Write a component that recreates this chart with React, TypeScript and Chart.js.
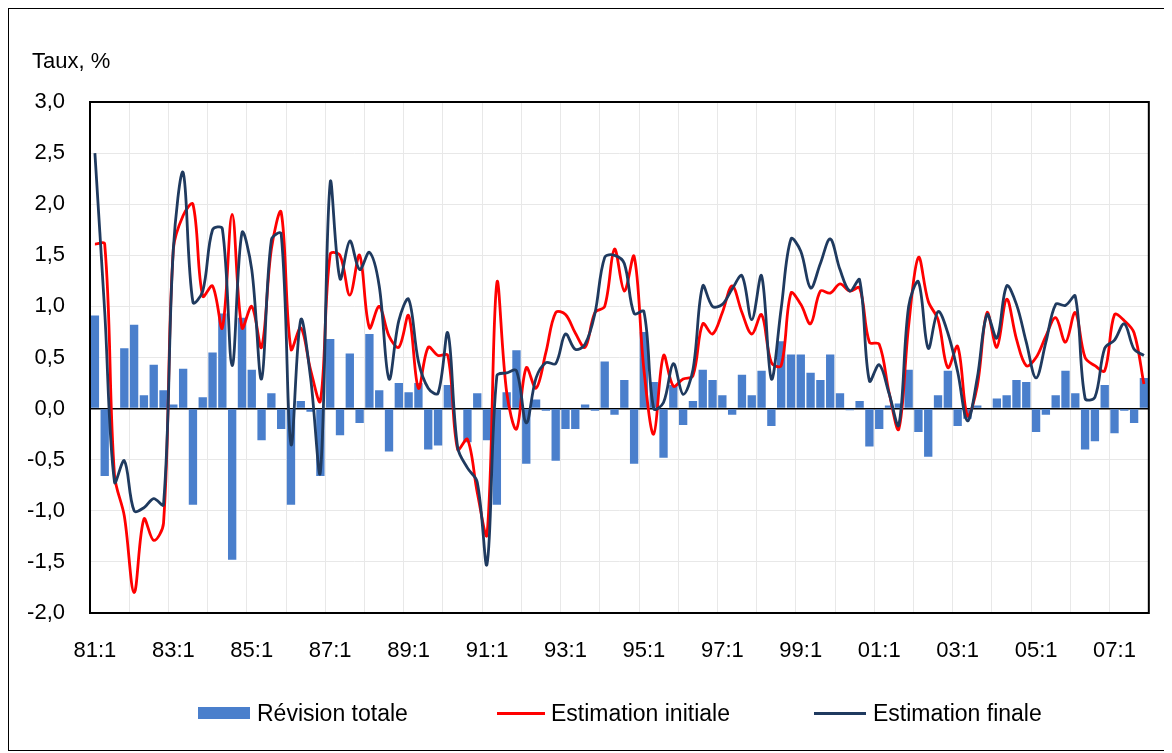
import React, { useEffect, useRef } from "react";
import { Chart, registerables } from "chart.js";

Chart.register(...registerables);

const years: string[] = ["81","82","83","84","85","86","87","88","89","90","91","92","93","94","95","96","97","98","99","00","01","02","03","04","05","06","07"];
const quarterNums: string[] = ["1","2","3","4"];
const categories: string[] = years.flatMap((y) => quarterNums.map((q) => `${y}:${q}`));

const tickLabels: string[] = ["81:1","83:1","85:1","87:1","89:1","91:1","93:1","95:1","97:1","99:1","01:1","03:1","05:1","07:1"];

const revisionTotale: number[] = [
  0.91, -0.66, 0.0, 0.59, 0.82, 0.13, 0.43, 0.18,
  0.04, 0.39, -0.94, 0.11, 0.55, 0.93, -1.48, 0.89,
  0.38, -0.31, 0.15, -0.2, -0.94, 0.075, -0.03, -0.66,
  0.68, -0.26, 0.54, -0.14, 0.73, 0.18, -0.42, 0.25,
  0.16, 0.25, -0.4, -0.36, 0.23, 0.0, -0.33, 0.15,
  -0.31, -0.94, 0.16, 0.57, -0.54, 0.09, -0.02, -0.51,
  -0.2, -0.2, 0.04, -0.02, 0.46, -0.06, 0.28, -0.54,
  0.75, 0.26, -0.48, 0.23, -0.16, 0.075, 0.38, 0.28,
  0.13, -0.06, 0.33, 0.13, 0.37, -0.17, 0.66, 0.53,
  0.53, 0.35, 0.28, 0.53, 0.15, -0.015, 0.075, -0.37,
  -0.2, 0.03, 0.05, 0.38, -0.23, -0.47, 0.13, 0.37,
  -0.17, -0.1, 0.03, -0.01, 0.1, 0.13, 0.28, 0.26,
  -0.23, -0.06, 0.13, 0.37, 0.15, -0.4, -0.32, 0.23,
  -0.24, -0.02, -0.14, 0.3,
];

const estimationInitiale: number[] = [
  1.61, 1.61, -0.65, -1.05, -1.8, -1.08, -1.29, -1.12,
  1.56, 1.89, 2.0, 1.1, 1.2, 0.79, 1.9, 0.79,
  1.0, 0.6, 1.56, 1.92, 0.58, 0.79, 0.38, 0.075,
  1.51, 1.5, 1.11, 1.5, 0.79, 1.0, 0.71, 0.6,
  0.91, 0.2, 0.6, 0.52, 0.52, -0.4, -0.3, -0.82,
  -1.23, 1.23, 0.16, -0.2, 0.4, 0.2, 0.55, 0.94,
  0.92, 0.74, 0.6, 0.94, 1.0, 1.56, 1.15, 1.49,
  0.38, -0.25, 0.52, 0.22, 0.29, 0.32, 0.83, 0.73,
  0.94, 1.2, 0.94, 0.73, 0.92, 0.45, 0.42, 1.13,
  1.02, 0.83, 1.15, 1.13, 1.22, 1.15, 1.18, 0.65,
  0.63, 0.16, -0.2, 0.81, 1.48, 1.05, 0.87, 0.4,
  0.61, -0.07, 0.22, 0.94, 0.6, 1.07, 0.68, 0.42,
  0.5, 0.71, 0.89, 0.65, 0.94, 0.5, 0.42, 0.37,
  0.92, 0.86, 0.74, 0.24,
];

const estimationFinale: number[] = [
  2.5, 0.95, -0.72, -0.51, -1.0, -0.97, -0.88, -0.94,
  1.56, 2.31, 1.04, 1.15, 1.75, 1.76, 0.42, 1.72,
  1.36, 0.29, 1.65, 1.71, -0.35, 0.87, 0.3, -0.62,
  2.21, 1.27, 1.64, 1.36, 1.53, 1.2, 0.29, 0.86,
  1.07, 0.46, 0.2, 0.15, 0.74, -0.38, -0.58, -0.72,
  -1.52, 0.32, 0.35, 0.37, -0.14, 0.3, 0.45, 0.44,
  0.73, 0.58, 0.63, 0.93, 1.48, 1.5, 1.42, 0.93,
  0.95, 0.0, 0.06, 0.44, 0.14, 0.38, 1.2, 1.0,
  1.02, 1.17, 1.3, 0.87, 1.3, 0.29, 0.98, 1.66,
  1.54, 1.18, 1.42, 1.66, 1.36, 1.15, 1.26, 0.27,
  0.43, 0.15, -0.16, 1.0, 1.24, 0.59, 0.95, 0.74,
  0.36, -0.12, 0.3, 0.92, 0.69, 1.2, 1.02, 0.65,
  0.3, 0.65, 1.02, 1.01, 1.1, 0.1, 0.11, 0.59,
  0.67, 0.83, 0.58, 0.52,
];

const FONT = '"Liberation Sans", Arial, sans-serif';
const BAR_COLOR = "#4A7FCC";
const RED = "#FF0000";
const NAVY = "#1F3A5F";

const framePlugin = {
  id: "plotFrame",
  afterDraw(chart: any) {
    const { ctx, chartArea } = chart;
    ctx.save();
    ctx.strokeStyle = "#000";
    ctx.lineWidth = 2;
    ctx.strokeRect(chartArea.left, chartArea.top, chartArea.right - chartArea.left, chartArea.bottom - chartArea.top);
    ctx.restore();
  },
};

export default function App() {
  const canvasRef = useRef<HTMLCanvasElement | null>(null);

  useEffect(() => {
    if (!canvasRef.current) return;
    const shown = new Set(tickLabels);
    const chart = new Chart(canvasRef.current, {
      type: "bar",
      data: {
        labels: categories,
        datasets: [
          {
            type: "bar",
            label: "Révision totale",
            data: revisionTotale,
            backgroundColor: BAR_COLOR,
            barPercentage: 0.85,
            categoryPercentage: 1,
            order: 3,
          } as any,
          {
            type: "line",
            label: "Estimation initiale",
            data: estimationInitiale,
            borderColor: RED,
            backgroundColor: RED,
            borderWidth: 2.8,
            pointRadius: 0,
            tension: 0.35,
            order: 2,
          } as any,
          {
            type: "line",
            label: "Estimation finale",
            data: estimationFinale,
            borderColor: NAVY,
            backgroundColor: NAVY,
            borderWidth: 2.8,
            pointRadius: 0,
            tension: 0.35,
            order: 1,
          } as any,
        ],
      },
      options: {
        animation: false,
        responsive: false,
        maintainAspectRatio: false,
        layout: { padding: { top: 93, right: 18, bottom: 77, left: 0 } },
        plugins: {
          legend: { display: false },
          tooltip: { enabled: false },
          title: { display: false },
        },
        scales: {
          x: {
            offset: true,
            grid: {
              offset: true,
              drawTicks: false,
              color: (c: any) => (c.index % 4 === 0 ? "#e8e8e8" : "rgba(0,0,0,0)"),
              lineWidth: 1,
            },
            border: { display: false },
            ticks: {
              autoSkip: false,
              maxRotation: 0,
              minRotation: 0,
              padding: 25,
              color: "#000",
              font: { family: FONT, size: 22 },
              callback: (_v: any, i: number) => (shown.has(categories[i]) ? categories[i] : ""),
            },
            afterFit: (s: any) => {
              s.height = 60;
            },
          },
          y: {
            min: -2,
            max: 3,
            grid: {
              drawTicks: false,
              color: (c: any) => (c.tick && c.tick.value === 0 ? "#000" : "#e8e8e8"),
              lineWidth: (c: any) => (c.tick && c.tick.value === 0 ? 1.5 : 1),
            },
            border: { display: false },
            ticks: {
              stepSize: 0.5,
              padding: 25,
              color: "#000",
              font: { family: FONT, size: 22 },
              callback: (v: any) => Number(v).toFixed(1).replace(".", ","),
            },
            afterFit: (s: any) => {
              s.width = 81;
            },
          },
        },
      } as any,
      plugins: [framePlugin],
    });
    return () => chart.destroy();
  }, []);

  const textStyle: React.CSSProperties = {
    position: "absolute",
    font: `23px ${FONT}`,
    lineHeight: "28px",
    color: "#000",
    whiteSpace: "nowrap",
    top: 690,
  };

  return (
    <div style={{ position: "relative", width: 1160, height: 741, border: "1px solid #000", background: "#fff" }}>
      <canvas ref={canvasRef} width={1160} height={741} style={{ display: "block", width: 1160, height: 741 }} />
      <div style={{ position: "absolute", left: 23, top: 39, font: `22px ${FONT}`, lineHeight: "26px", color: "#000", whiteSpace: "nowrap" }}>
        Taux, %
      </div>
      <div style={{ position: "absolute", left: 189, top: 698, width: 52, height: 12, background: BAR_COLOR }} />
      <div style={{ ...textStyle, left: 248 }}>Révision totale</div>
      <div style={{ position: "absolute", left: 488, top: 703, width: 48, height: 3, background: RED }} />
      <div style={{ ...textStyle, left: 542 }}>Estimation initiale</div>
      <div style={{ position: "absolute", left: 805, top: 703, width: 52, height: 3, background: NAVY }} />
      <div style={{ ...textStyle, left: 864 }}>Estimation finale</div>
    </div>
  );
}
